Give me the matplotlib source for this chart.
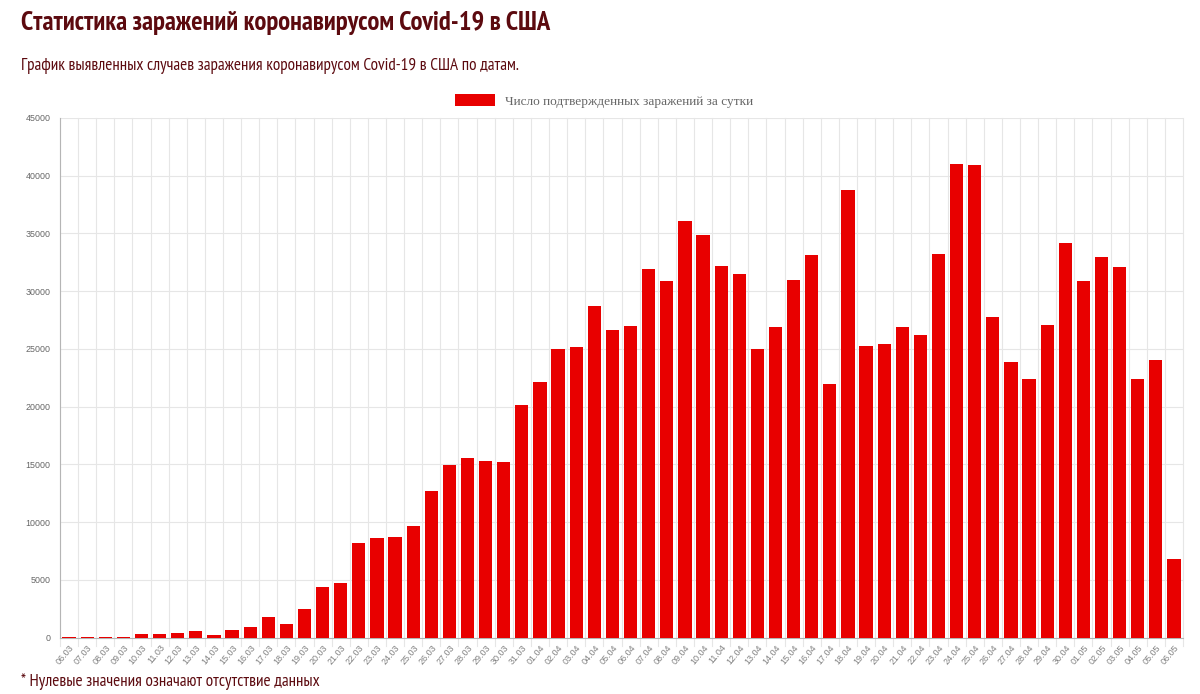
# US Covid-19 daily confirmed cases, bar chart
import matplotlib
matplotlib.use('Agg')
import numpy as np
import matplotlib.pyplot as plt

dates = ['06.03', '07.03', '08.03', '09.03', '10.03', '11.03', '12.03', '13.03', '14.03', '15.03',
         '16.03', '17.03', '18.03', '19.03', '20.03', '21.03', '22.03', '23.03', '24.03', '25.03',
         '26.03', '27.03', '28.03', '29.03', '30.03', '31.03', '01.04', '02.04', '03.04', '04.04',
         '05.04', '06.04', '07.04', '08.04', '09.04', '10.04', '11.04', '12.04', '13.04', '14.04',
         '15.04', '16.04', '17.04', '18.04', '19.04', '20.04', '21.04', '22.04', '23.04', '24.04',
         '25.04', '26.04', '27.04', '28.04', '29.04', '30.04', '01.05', '02.05', '03.05', '04.05',
         '05.05', '06.05']
cases = [50, 60, 60, 50, 270, 290, 370, 550, 250, 650,
         900, 1780, 1130, 2430, 4350, 4750, 8150, 8600, 8700, 9700,
         12650, 14950, 15550, 15300, 15200, 20150, 22150, 25000, 25150, 28750,
         26650, 26950, 31900, 30900, 36050, 34900, 32200, 31450, 25000, 26900,
         30950, 33150, 22000, 38750, 25250, 25400, 26900, 26200, 33250, 41000,
         40950, 27750, 23850, 22350, 27100, 34200, 30900, 33000, 32100, 22350,
         24050, 6800]
y_ticks = [0, 5000, 10000, 15000, 20000, 25000, 30000, 35000, 40000, 45000]

W, H = 1200, 694
narrow = ['PT Sans Narrow', 'Liberation Sans']

fig = plt.figure(figsize=(W / 100, H / 100), dpi=100, facecolor='white')
ax = fig.add_axes([60 / W, 1 - 637.5 / H, (1183 - 60) / W, (637.5 - 118) / H])

x = np.arange(len(dates))
bars = ax.bar(x, cases, width=0.73, color='#e80000', linewidth=0, zorder=3,
              label='Число подтвержденных заражений за сутки')

ax.set_xlim(-0.5, len(dates) - 0.5)
ax.set_ylim(0, 45000)
ax.set_yticks(y_ticks)
ax.set_xticks(x)
ax.set_xticklabels(dates, rotation=50, ha='right', rotation_mode='anchor',
                   fontsize=6.5, color='#808080', family='Liberation Sans')
ax.tick_params(axis='y', labelsize=6.4, labelcolor='#666666', length=0, pad=7)
ax.tick_params(axis='x', length=0, pad=4)
for lab in ax.get_yticklabels():
    lab.set_family('Liberation Sans')

# gridlines sit on the category edges, not the bar centres
edges = np.arange(len(dates) + 1) - 0.5
for e in edges:
    ax.plot([e, e], [-0.017, 1], color='#e6e6e6', lw=0.8, zorder=1, clip_on=False,
            transform=ax.get_xaxis_transform())
ax.grid(axis='y', color='#e6e6e6', lw=0.8, zorder=1)
ax.set_axisbelow(True)
for side in ['top', 'right']:
    ax.spines[side].set_visible(False)
ax.spines['left'].set_color('#b5b5b5')
ax.spines['bottom'].set_color('#b5b5b5')
ax.spines['left'].set_zorder(2)
ax.spines['bottom'].set_zorder(2)

leg = fig.legend(handles=[bars], loc='upper left', bbox_to_anchor=(444 / W, 1 - 83 / H),
                 frameon=False, handlelength=3.0, handleheight=1.1, handletextpad=0.75,
                 borderpad=0.3, prop={'family': 'Liberation Serif', 'size': 9.6})
leg.get_texts()[0].set_color('#666666')

fig.text(21 / W, 1 - 23 / H, 'Статистика заражений коронавирусом Covid-19 в США',
         fontsize=19.2, fontweight='bold', color='#5c0a0f', family=narrow, va='center')
fig.text(21 / W, 1 - 66 / H, 'График выявленных случаев заражения коронавирусом Covid-19 в США по датам.',
         fontsize=12.3, color='#5c0a0f', family=narrow, va='center')
fig.text(21 / W, 1 - 682 / H, '* Нулевые значения означают отсутствие данных',
         fontsize=12.3, color='#5c0a0f', family=narrow, va='center')

fig.savefig('out.png', dpi=100)
